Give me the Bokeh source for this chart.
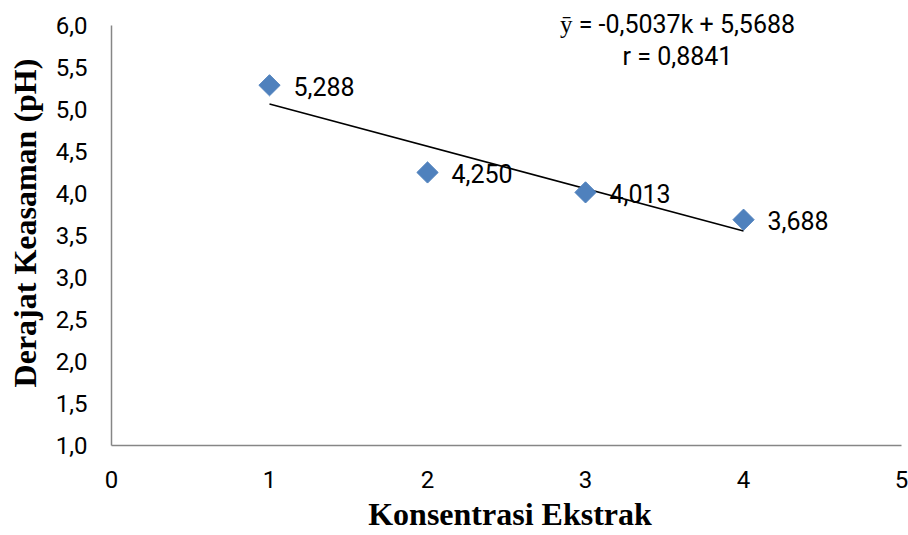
import math
from bokeh.plotting import figure
from bokeh.models import Range1d, FixedTicker, CustomJSTickFormatter, ColumnDataSource, Title
from bokeh.core.properties import value
from bokeh.embed import file_html
from bokeh.resources import INLINE

# ---- data ----
konsentrasi = [1, 2, 3, 4]
ph = [5.288, 4.250, 4.013, 3.688]
ph_labels = ["5,288", "4,250", "4,013", "3,688"]
x_ticks = [0, 1, 2, 3, 4, 5]
y_ticks = [1.0, 1.5, 2.0, 2.5, 3.0, 3.5, 4.0, 4.5, 5.0, 5.5, 6.0]
slope = -0.5037
intercept = 5.5688
r_value = 0.8841
x_title = "Konsentrasi Ekstrak"
y_title = "Derajat Keasaman (pH)"

def fmt(v, d):
    return f"{v:.{d}f}".replace(".", ",")

eq_text = f"ȳ = {fmt(slope, 4)}k + {fmt(intercept, 4)}"
r_text = f"r = {fmt(r_value, 4)}"

p = figure(width=908, height=535, output_backend="svg", toolbar_location=None,
           x_range=Range1d(0, 5.044), y_range=Range1d(1, 6.297),
           min_border_left=111, min_border_right=0, min_border_top=0, min_border_bottom=90)
p.outline_line_color = None
p.grid.grid_line_color = None
p.background_fill_color = "white"
p.border_fill_color = "white"

for ax in (p.xaxis[0], p.yaxis[0]):
    ax.axis_line_color = "#868686"
    ax.axis_line_width = 1.5
    ax.major_tick_line_color = None
    ax.minor_tick_line_color = None
    ax.major_tick_out = 0
    ax.major_tick_in = 0
    ax.major_label_text_font = "Roboto"
    ax.major_label_text_font_size = "24px"
    ax.major_label_text_color = "black"
    ax.axis_label_text_font = "Liberation Serif"
    ax.axis_label_text_font_style = "bold"
    ax.axis_label_text_font_size = "32px"
    ax.axis_label_text_color = "black"

p.xaxis.bounds = (x_ticks[0], x_ticks[-1])
p.yaxis.bounds = (y_ticks[0], y_ticks[-1])
p.xaxis.ticker = FixedTicker(ticks=x_ticks)
p.yaxis.ticker = FixedTicker(ticks=y_ticks)
p.yaxis.formatter = CustomJSTickFormatter(code="return tick.toFixed(1).replace('.', ',');")
p.xaxis.formatter = CustomJSTickFormatter(code="return tick.toFixed(0);")
p.xaxis.major_label_standoff = 25
p.xaxis.major_label_text_line_height = 0.9
p.yaxis.major_label_standoff = 24
p.yaxis.axis_label = y_title
p.yaxis.axis_label_standoff = 10

# x-axis title as a panel below the axis
p.add_layout(Title(text=x_title, align="center", vertical_align="bottom", standoff=7, offset=0,
                   text_font="Liberation Serif", text_font_style="bold", text_line_height=0.9,
                   text_font_size="32px", text_color="black"), "below")

# trendline
x0, x1 = min(konsentrasi), max(konsentrasi)
p.line([x0, x1], [intercept + slope * x0, intercept + slope * x1], line_color="black", line_width=1.5)

src = ColumnDataSource(dict(x=konsentrasi, y=ph, lab=ph_labels))
p.scatter("x", "y", source=src, marker="square", size=15, angle=math.pi / 4,
          fill_color="#4F81BD", line_color="#4F81BD")
p.text("x", "y", text="lab", source=src, x_offset=24, y_offset=1,
       text_align="left", text_baseline="middle",
       text_font=value("Roboto"), text_font_size="25px", text_color="black")

p.text(x=[3.582, 3.582], y=[6.012, 5.631], text=[eq_text, r_text],
       text_align="center", text_baseline="middle",
       text_font=value("Roboto"), text_font_size="25px", text_color="black")

open("out.html", "w").write(file_html(p, INLINE))
